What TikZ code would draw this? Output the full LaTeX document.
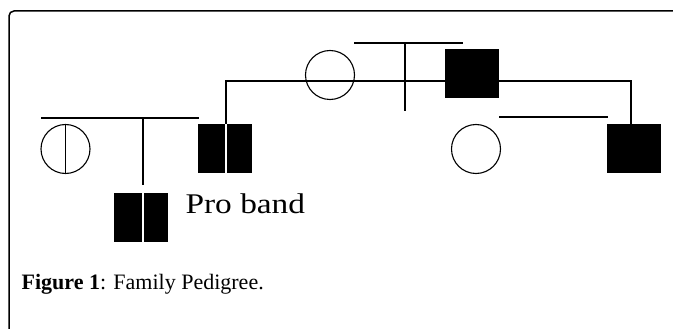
\documentclass[tikz,border=0pt]{standalone}
\usepackage{fontspec}
\setmainfont{Liberation Serif}
\newfontfamily\probandfont[FakeStretch=1.17]{Liberation Serif}
\newfontfamily\captionfont{Liberation Serif}
\begin{document}
\begin{tikzpicture}[x=1pt,y=-1pt,
  line width=1.2pt,
  female/.style={draw,circle,minimum size=49pt,inner sep=0pt,line width=1.1pt},
  male/.style={fill=black,draw=none,minimum width=54pt,minimum height=49pt,inner sep=0pt},
  link/.style={draw,black,line width=1.2pt},
  split/.style={draw,white,line width=1.4pt}]
\useasboundingbox (0,0) rectangle (673,329);
\clip (0,0) rectangle (673,329);
% frame
\draw[line width=1.5pt,rounded corners=5pt] (9,335) -- (9,11) -- (673,11);
% individuals
\node[female] (f1) at (65.5,149) {};
\node[male] (m1) at (224.5,148.5) {};
\node[male] (c1) at (141,217.5) {};
\node[female] (f2) at (330,75) {};
\node[male] (m2) at (472,73.5) {};
\node[female] (f3) at (476,149) {};
\node[male] (m3) at (633.5,148.5) {};
% coordinates
\coordinate (l1a) at (41,118);
\coordinate (l1b) at (199,118);
\coordinate (d1a) at (143,118);
\coordinate (d1b) at (143,185);
\coordinate (m1t) at (226,124);
\coordinate (m1b) at (226,173);
\coordinate (c1t) at (143,193);
\coordinate (c1b) at (143,242);
\coordinate (k1) at (226,81);
\coordinate (k2) at (445,81);
\coordinate (t1a) at (354,43);
\coordinate (t1b) at (463,43);
\coordinate (t2a) at (405,43);
\coordinate (t2b) at (405,111);
\coordinate (r1) at (499,81);
\coordinate (r2) at (631,81);
\coordinate (r3) at (631,124);
\coordinate (s1) at (499,117);
\coordinate (s2) at (608,117);
\coordinate (f1t) at (65.5,124.5);
\coordinate (f1b) at (65.5,173.5);
% connectors
\path[link] (l1a) -- (l1b);
\path[link] (d1a) -- (d1b);
\path[link] (m1t) -- (k1) -- (k2);
\path[link] (t1a) -- (t1b);
\path[link] (t2a) -- (t2b);
\path[link] (r1) -- (r2) -- (r3);
\path[link] (s1) -- (s2);
\path[link] (f1t) -- (f1b);
% white splits
\path[split] (m1t) -- (m1b);
\path[split] (c1t) -- (c1b);
% labels
\node[anchor=base west,inner sep=0pt,font=\probandfont\fontsize{28.5}{30}\selectfont] (pb) at (185,213) {Pro band};
\node[anchor=base west,inner sep=0pt,font=\captionfont\fontsize{22}{24}\selectfont] (cap) at (21,289) {\textbf{Figure 1}: Family Pedigree.};
\end{tikzpicture}
\end{document}
